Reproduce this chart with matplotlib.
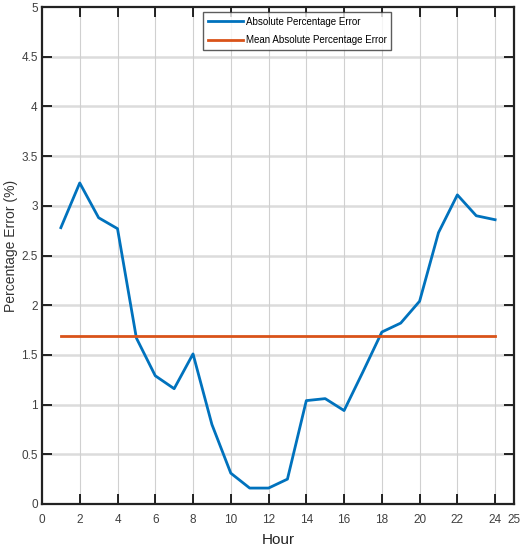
import numpy as np
import matplotlib.pyplot as plt

# hourly absolute percentage error
hours = list(range(1, 25))
ape = [2.78, 3.23, 2.88, 2.77, 1.67, 1.29, 1.16, 1.51, 0.80, 0.31, 0.16, 0.16,
       0.25, 1.04, 1.06, 0.94, 1.33, 1.73, 1.82, 2.04, 2.73, 3.11, 2.90, 2.86]
mape = [1.69] * len(hours)

xticks = [0, 2, 4, 6, 8, 10, 12, 14, 16, 18, 20, 22, 24, 25]
yticks = [0, 0.5, 1, 1.5, 2, 2.5, 3, 3.5, 4, 4.5, 5]
ytick_labels = ["0", "0.5", "1", "1.5", "2", "2.5", "3", "3.5", "4", "4.5", "5"]

plt.rcParams['font.family'] = ['Liberation Sans', 'DejaVu Sans']

fig = plt.figure(figsize=(5.28, 5.54), dpi=100)
ax = fig.add_axes([0.0795, 0.0903, 0.894, 0.897])

blue = "#0072BD"
orange = "#D95319"
ax.plot(hours, ape, color=blue, lw=2.0, label="Absolute Percentage Error", zorder=3)
ax.plot(hours, mape, color=orange, lw=2.0, label="Mean Absolute Percentage Error", zorder=3)

ax.set_xlim(0, 25)
ax.set_ylim(0, 5)
ax.set_xticks(xticks)
ax.set_yticks(yticks)
ax.set_yticklabels(ytick_labels)

for y in yticks[1:-1]:
    ax.axhline(y, color="#dcdcdc", lw=1.8, zorder=1)
for x in xticks[1:-1]:
    ax.axvline(x, color="#d0d0d0", lw=0.8, zorder=1)

ax.tick_params(direction="in", length=7, width=1.2, top=True, right=True,
               labelsize=8.5, labelcolor="#404040")
ax.tick_params(axis="x", pad=7)
ax.tick_params(axis="y", pad=3)
for s in ax.spines.values():
    s.set_linewidth(1.6)
    s.set_color("#222222")

ax.set_xlabel("Hour", fontsize=11, color="#222222", labelpad=5)
ax.set_ylabel("Percentage Error (%)", fontsize=10, color="#333333")
ax.yaxis.set_label_coords(-0.05, 0.52)

leg = ax.legend(loc="upper left", bbox_to_anchor=(0.341, 0.99), fontsize=7.0,
                frameon=True, fancybox=False, edgecolor="#333333",
                handlelength=3.6, handletextpad=0.3, borderpad=0.5,
                labelspacing=0.85, borderaxespad=0)
leg.get_frame().set_linewidth(1.0)

fig.savefig("out.png", dpi=100, facecolor="white")
